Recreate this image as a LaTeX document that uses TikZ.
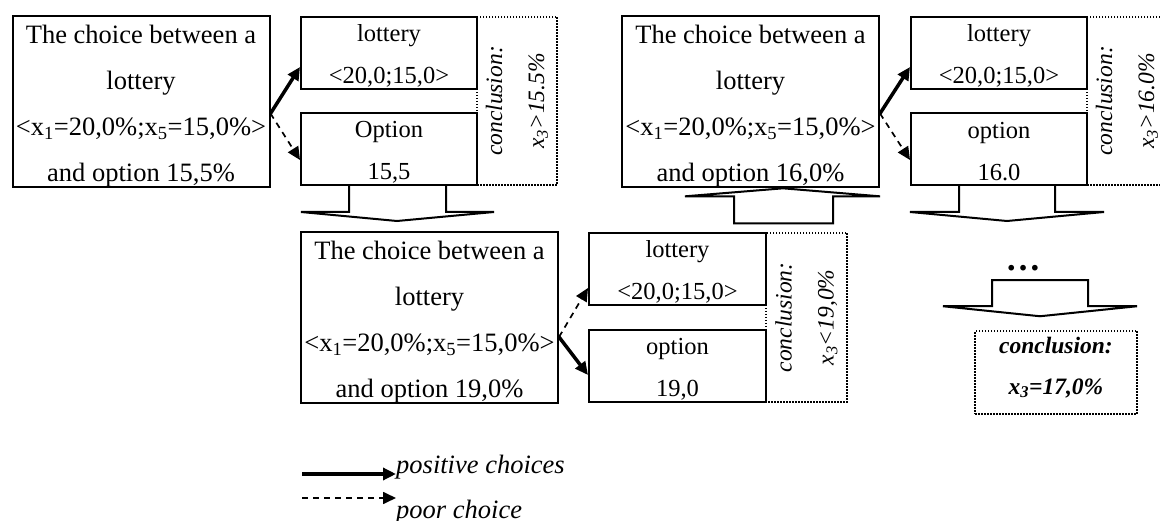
\documentclass[tikz,border=0pt]{standalone}
\usepackage{fontspec}
\setmainfont{Liberation Serif}
\usetikzlibrary{positioning,arrows.meta}

% invisible struts to push the text inside a box up or down
\newcommand{\tallbig}{\rule{0pt}{28pt}}
\newcommand{\tallsmall}{\rule{0pt}{22pt}}
\newcommand{\deepline}{\rule[-14pt]{0pt}{14pt}}

\begin{document}
\begin{tikzpicture}[x=1pt, y=-1pt,
  choice/.style={draw, line width=2pt, align=center, inner sep=0pt,
    minimum width=257pt, minimum height=169pt,
    font=\fontsize{26.5}{46}\selectfont},
  small/.style={draw, line width=2pt, align=center, inner sep=0pt,
    minimum width=176pt, minimum height=72pt,
    font=\fontsize{24.5}{42}\selectfont},
  dotbox/.style={draw, line width=1.5pt, dash pattern=on 1.5pt off 1.5pt,
    align=center, inner sep=0pt, font=\fontsize{23.5}{42}\selectfont\itshape},
  concl/.style={dotbox, rotate=90, minimum width=168pt, minimum height=80pt},
  good/.style={line width=3.5pt, -{Triangle[length=13pt,width=12pt]}},
  bad/.style={line width=1.7pt, dash pattern=on 6pt off 5pt,
    -{Triangle[length=13pt,width=12pt]}},
  fat/.style={draw, line width=2pt, line join=miter},
  legend/.style={anchor=base west, inner sep=0pt,
    font=\fontsize{26.5}{26.5}\selectfont\itshape}]
\useasboundingbox (0,0) rectangle (1160,521);
% first step: option 15,5
\node[concl] (concl1) at (517,101) {conclusion:\\x\textsubscript{3}>15.5\%};
\node[choice] (choice1) at (141,101.5) {\tallbig The choice between a\\ lottery\\ <x\textsubscript{1}=20,0\%;x\textsubscript{5}=15,0\%>\\ and option 15,5\%};
\node[small] (lot1) at (389,53) {\tallsmall lottery\\ <20,0;15,0>};
\node[small] (opt1) at (389,149) {\tallsmall Option\\ 15,5};
% second step: option 19,0
\node[concl, minimum width=169pt, minimum height=81pt] (concl2) at (806.5,317.5) {conclusion:\\x\textsubscript{3}<19,0\%};
\node[choice] (choice2) at (429.5,317.5) {\tallbig The choice between a\\ lottery\\ <x\textsubscript{1}=20,0\%;x\textsubscript{5}=15,0\%>\\ and option 19,0\%};
\node[small, minimum width=177pt] (lot2) at (677.5,269) {\tallsmall lottery\\ <20,0;15,0>};
\node[small, minimum width=177pt] (opt2) at (677.5,366) {\tallsmall option\\ 19,0};
% third step: option 16,0
\node[concl] (concl3) at (1127,101) {conclusion:\\x\textsubscript{3}>16.0\%};
\node[choice] (choice3) at (750.5,101.5) {\tallbig The choice between a\\ lottery\\ <x\textsubscript{1}=20,0\%;x\textsubscript{5}=15,0\%>\\ and option 16,0\%};
\node[small] (lot3) at (999,53) {\tallsmall lottery\\ <20,0;15,0>};
\node[small] (opt3) at (999,149) {\tallsmall option\\ 16.0};
% end
\node[anchor=base, inner sep=0pt, font=\fontsize{35}{35}\selectfont\bfseries] (dots) at (1023,271) {…};
\node[dotbox, minimum width=162pt, minimum height=83pt,
  font=\fontsize{23.5}{41}\selectfont\bfseries\itshape] (final) at (1056,372.5)
  {conclusion:\\ x\textsubscript{3}=17,0\%\deepline};

\draw[good] ([yshift=-12pt]choice1.east) -- ([yshift=-14pt]lot1.west);
\draw[bad] ([yshift=-12pt]choice1.east) -- ([yshift=-11pt]opt1.west);
\draw[bad] ([yshift=-19.5pt]choice2.east) -- ([yshift=-19pt]lot2.west);
\draw[good] ([yshift=-19.5pt]choice2.east) -- ([yshift=-9pt]opt2.west);
\draw[good] ([yshift=-12pt]choice3.east) -- ([yshift=-14pt]lot3.west);
\draw[bad] ([yshift=-12pt]choice3.east) -- ([yshift=-11pt]opt3.west);

% block arrows
\draw[fat] ([xshift=-40pt]opt1.south) -- ++(0,26) -- ++(-48,0) -- ++(96,9)
  -- ++(97,-9) -- ++(-48,0) -- ++(0,-26);
\draw[fat] ([xshift=32.5pt]choice3.south) -- ++(97,8) -- ++(-47,0) -- ++(0,27)
  -- ++(-99,0) -- ++(0,-27) -- ++(-49,0) -- cycle;
\draw[fat] ([xshift=-40pt]opt3.south) -- ++(0,26) -- ++(-49,0) -- ++(97,9)
  -- ++(97,-9) -- ++(-49,0) -- ++(0,-26);
\draw[fat] ([shift={(-64,-50)}]final.north) -- ++(96,0) -- ++(0,26) -- ++(49,0)
  -- ++(-97,10) -- ++(-97,-10) -- ++(49,0) -- cycle;

% legend
\coordinate (leg1) at (302,474);
\coordinate (leg2) at (302,498);
\node[legend] (pos) at (396,473) {positive choices};
\node[legend] (neg) at (396,518) {poor choice};
\draw[good] (leg1) -- (leg1 -| pos.west);
\draw[bad] (leg2) -- (leg2 -| neg.west);
\end{tikzpicture}
\end{document}
